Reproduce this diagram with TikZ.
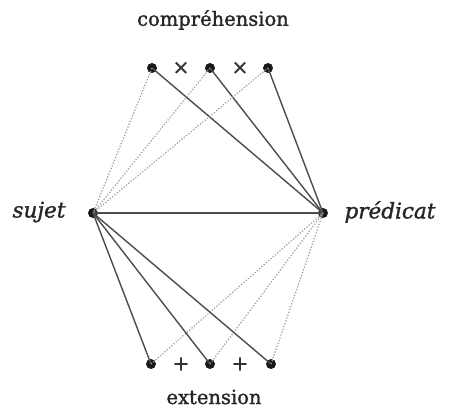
\documentclass[tikz,border=0pt]{standalone}
\usepackage{fontspec}
\setmainfont{DejaVu Serif}[UprightFeatures={FakeBold=1.4},ItalicFeatures={FakeBold=1.4}]
\begin{document}
\begin{tikzpicture}[x=1pt,y=-1pt,
  dotnode/.style={circle,fill=black!90,inner sep=0pt,minimum size=10pt},
  solidline/.style={line width=1.4pt,black!70},
  dotline/.style={line width=1.2pt,black!38,dash pattern=on 1.3pt off 1.7pt},
  lbl/.style={font=\fontsize{19.5}{22}\selectfont,text=black!85},
  ilbl/.style={font=\fontsize{21.5}{24}\selectfont\itshape,text=black!85},
  sym/.style={font=\fontsize{20}{20}\selectfont,text=black!80}]
\useasboundingbox (0,0) rectangle (459,414);
\node[dotnode] (t1) at (152,68) {};
\node[dotnode] (t2) at (210,68) {};
\node[dotnode] (t3) at (268,68) {};
\node[dotnode] (s) at (93,213) {};
\node[dotnode] (p) at (323,213) {};
\node[dotnode] (b1) at (151,364) {};
\node[dotnode] (b2) at (210,364) {};
\node[dotnode] (b3) at (271,364) {};
\node[sym] (x1) at (181,68) {×};
\node[sym] (x2) at (240,68) {×};
\node[sym] (p1) at (181,364) {+};
\node[sym] (p2) at (240,364) {+};
\node[lbl] (comp) at (213,20) {compréhension};
\node[lbl] (ext) at (214,397) {extension};
\node[ilbl] (suj) at (39,212) {sujet};
\node[ilbl] (pred) at (390,212) {prédicat};
\draw[solidline] (s.center) -- (p.center);
\foreach \n in {t1,t2,t3} {
  \draw[solidline] (\n.center) -- (p.center);
  \draw[dotline] (\n.center) -- (s.center);
}
\foreach \n in {b1,b2,b3} {
  \draw[solidline] (\n.center) -- (s.center);
  \draw[dotline] (\n.center) -- (p.center);
}
\end{tikzpicture}
\end{document}
